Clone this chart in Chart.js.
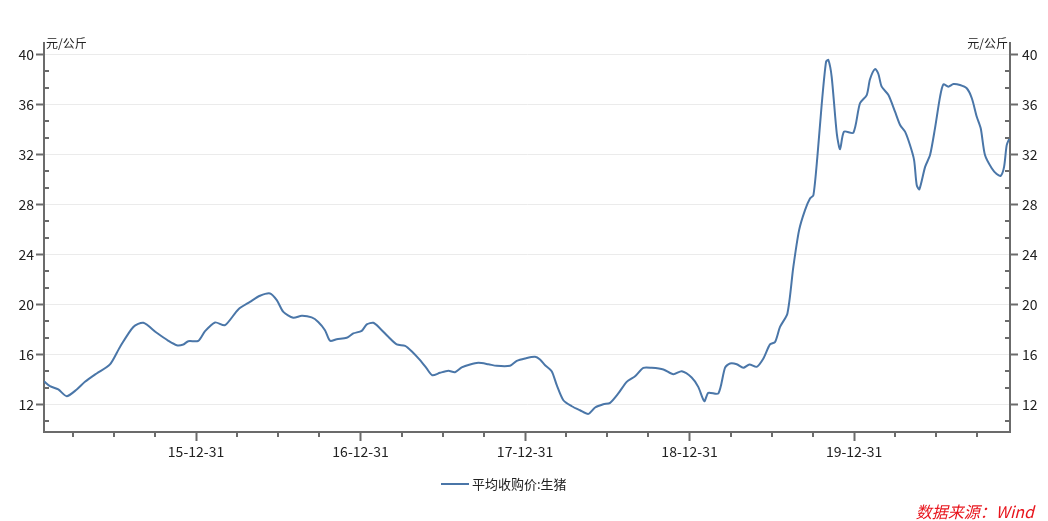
<!DOCTYPE html>
<html>
<head>
<meta charset="utf-8">
<script src="https://cdn.jsdelivr.net/npm/chart.js@4/dist/chart.umd.min.js"></script>
<style>
    html, body { margin: 0; padding: 0; background: #fff; }
    #wrap { position: relative; width: 1048px; height: 521px; font-family: "Noto Sans CJK SC", "Noto Sans", sans-serif; color: #222; }
    #wrap canvas { position: absolute; left: 0; top: 0; }
    .unit { position: absolute; top: 35px; font-size: 12px; line-height: 16px; }
    #unit-left { left: 46px; }
    #unit-right { right: 40px; }
    #legend { position: absolute; left: 441px; top: 474px; font-size: 13px; line-height: 20px; display: flex; align-items: center; }
    #legend span.swatch { display: inline-block; width: 28px; height: 2px; background: #4a76a8; margin-right: 3px; }
    #source { position: absolute; right: 14px; top: 501px; font-size: 16px; line-height: 20px; color: #e8141c; font-style: italic; }
</style>
</head>
<body>
<div id="wrap">
    <canvas id="pigChart" width="1048" height="521"></canvas>
    <div class="unit" id="unit-left">元/公斤</div>
    <div class="unit" id="unit-right">元/公斤</div>
    <div id="legend"><span class="swatch"></span>平均收购价:生猪</div>
    <div id="source">数据来源：Wind</div>
</div>
<script>
// time in decimal years (2016.0 = 15-12-31)
const dates = [
    2015.076, 2015.112, 2015.163, 2015.214, 2015.275, 2015.325, 2015.396, 2015.477, 2015.538, 2015.619,
    2015.680, 2015.761, 2015.832, 2015.883, 2015.923, 2015.953, 2016.014, 2016.055, 2016.116, 2016.176,
    2016.257, 2016.328, 2016.389, 2016.450, 2016.491, 2016.531, 2016.591, 2016.643, 2016.703, 2016.743,
    2016.784, 2016.815, 2016.855, 2016.916, 2016.956, 2017.007, 2017.038, 2017.078, 2017.119, 2017.169,
    2017.220, 2017.271, 2017.311, 2017.362, 2017.402, 2017.436, 2017.483, 2017.534, 2017.574, 2017.615,
    2017.666, 2017.716, 2017.777, 2017.828, 2017.909, 2017.950, 2018.000, 2018.061, 2018.091, 2018.122,
    2018.162, 2018.193, 2018.233, 2018.284, 2018.334, 2018.385, 2018.426, 2018.476, 2018.517, 2018.567,
    2018.618, 2018.669, 2018.719, 2018.770, 2018.841, 2018.902, 2018.953, 2019.013, 2019.053, 2019.090,
    2019.114, 2019.175, 2019.216, 2019.246, 2019.287, 2019.327, 2019.364, 2019.408, 2019.449, 2019.489,
    2019.520, 2019.550, 2019.595, 2019.631, 2019.666, 2019.702, 2019.733, 2019.753, 2019.777, 2019.804,
    2019.830, 2019.844, 2019.864, 2019.895, 2019.915, 2019.939, 2019.996, 2020.036, 2020.077, 2020.097,
    2020.128, 2020.148, 2020.168, 2020.209, 2020.249, 2020.280, 2020.310, 2020.340, 2020.365, 2020.381,
    2020.397, 2020.432, 2020.462, 2020.492, 2020.523, 2020.543, 2020.573, 2020.604, 2020.644, 2020.685,
    2020.716, 2020.746, 2020.770, 2020.796, 2020.837, 2020.867, 2020.892, 2020.912, 2020.928, 2020.945
];

// 平均收购价:生猪 (元/公斤)
const pigPrice = [
    13.85, 13.46, 13.20, 12.66, 13.20, 13.81, 14.48, 15.20, 16.60, 18.20,
    18.53, 17.73, 17.09, 16.74, 16.80, 17.06, 17.09, 17.86, 18.56, 18.34,
    19.60, 20.20, 20.69, 20.88, 20.34, 19.40, 18.93, 19.09, 18.96, 18.60,
    17.94, 17.09, 17.22, 17.33, 17.68, 17.89, 18.40, 18.53, 18.08, 17.41,
    16.80, 16.69, 16.26, 15.54, 14.88, 14.34, 14.53, 14.69, 14.58, 14.96,
    15.20, 15.33, 15.22, 15.09, 15.10, 15.49, 15.68, 15.81, 15.60, 15.14,
    14.66, 13.54, 12.34, 11.86, 11.54, 11.25, 11.76, 12.02, 12.13, 12.88,
    13.81, 14.26, 14.93, 14.93, 14.80, 14.42, 14.66, 14.16, 13.41, 12.26,
    12.93, 12.88, 14.95, 15.28, 15.22, 14.93, 15.20, 15.01, 15.68, 16.80,
    17.00, 18.20, 19.28, 23.00, 25.94, 27.54, 28.48, 28.74, 31.80, 36.08,
    39.41, 39.54, 38.20, 33.68, 32.40, 33.81, 33.73, 36.08, 36.74, 38.00,
    38.82, 38.42, 37.41, 36.74, 35.41, 34.34, 33.81, 32.74, 31.54, 29.54,
    29.20, 31.00, 31.94, 34.08, 36.61, 37.60, 37.41, 37.62, 37.54, 37.28,
    36.48, 35.00, 34.08, 31.94, 30.88, 30.42, 30.29, 31.00, 32.74, 33.28
];

const yTicks = [12, 16, 20, 24, 28, 32, 36, 40];
const yearTicks = [2016, 2017, 2018, 2019, 2020];
const xMin = 2015.076, xMax = 2020.948;
const yMin = 9.8, yMax = 40.9;

const axisColor = "#6b6b6b";
const lineColor = "#4a76a8";
const tickFont = { family: "'Noto Sans CJK SC', 'Noto Sans', sans-serif", size: 14 };

// short minor tick marks: quarters on x, thirds of a step on y (drawn inside)
const minorTicks = {
    id: "minorTicks",
    afterDraw(chart) {
        const { ctx, chartArea, scales } = chart;
        ctx.save();
        ctx.strokeStyle = axisColor;
        ctx.lineWidth = 2;
        ctx.beginPath();
        for (let q = Math.ceil(xMin * 4) / 4; q <= xMax; q += 0.25) {
            if (Number.isInteger(q)) continue;
            const px = Math.round(scales.x.getPixelForValue(q));
            ctx.moveTo(px, chartArea.bottom);
            ctx.lineTo(px, chartArea.bottom + 5);
        }
        for (let v = 12 - 4 / 3; v < yMax; v += 4 / 3) {
            if (yTicks.some(t => Math.abs(t - v) < 0.01)) continue;
            const py = Math.round(scales.y.getPixelForValue(v));
            ctx.moveTo(chartArea.left, py);
            ctx.lineTo(chartArea.left + 5, py);
            ctx.moveTo(chartArea.right - 5, py);
            ctx.lineTo(chartArea.right, py);
        }
        ctx.stroke();
        ctx.restore();
    }
};

const ctx = document.getElementById("pigChart").getContext("2d");

new Chart(ctx, {
    type: "line",
    data: {
        datasets: [{
            label: "平均收购价:生猪",
            data: dates.map((d, i) => ({ x: d, y: pigPrice[i] })),
            borderColor: lineColor,
            backgroundColor: lineColor,
            borderWidth: 2,
            pointRadius: 0,
            tension: 0.25,
            fill: false
        }]
    },
    options: {
        responsive: false,
        animation: false,
        layout: { padding: { top: 43, bottom: 49, left: 0, right: 0 } },
        plugins: {
            legend: { display: false },
            tooltip: { enabled: false }
        },
        scales: {
            x: {
                type: "linear",
                min: xMin,
                max: xMax,
                afterBuildTicks: (scale) => { scale.ticks = yearTicks.map(v => ({ value: v })); },
                afterFit: (scale) => { scale.height = 40; },
                grid: { drawOnChartArea: false, tickLength: 9, tickColor: axisColor, tickWidth: 2 },
                border: { color: axisColor, width: 2 },
                ticks: {
                    color: "#222",
                    font: tickFont,
                    padding: 2,
                    maxRotation: 0,
                    callback: (v) => String(v - 1).slice(2) + "-12-31"
                }
            },
            y: {
                position: "left",
                min: yMin,
                max: yMax,
                afterBuildTicks: (scale) => { scale.ticks = yTicks.map(v => ({ value: v })); },
                afterFit: (scale) => { scale.width = 44; },
                grid: { color: "#ebebeb", lineWidth: 1, tickLength: 8, tickColor: axisColor, tickWidth: 2 },
                border: { color: axisColor, width: 2 },
                ticks: { color: "#222", font: tickFont, padding: 2 }
            },
            y2: {
                position: "right",
                min: yMin,
                max: yMax,
                afterBuildTicks: (scale) => { scale.ticks = yTicks.map(v => ({ value: v })); },
                afterFit: (scale) => { scale.width = 38; },
                grid: { drawOnChartArea: false, tickLength: 8, tickColor: axisColor, tickWidth: 2 },
                border: { color: axisColor, width: 2 },
                ticks: { color: "#222", font: tickFont, padding: 4 }
            }
        }
    },
    plugins: [minorTicks]
});
</script>
</body>
</html>
